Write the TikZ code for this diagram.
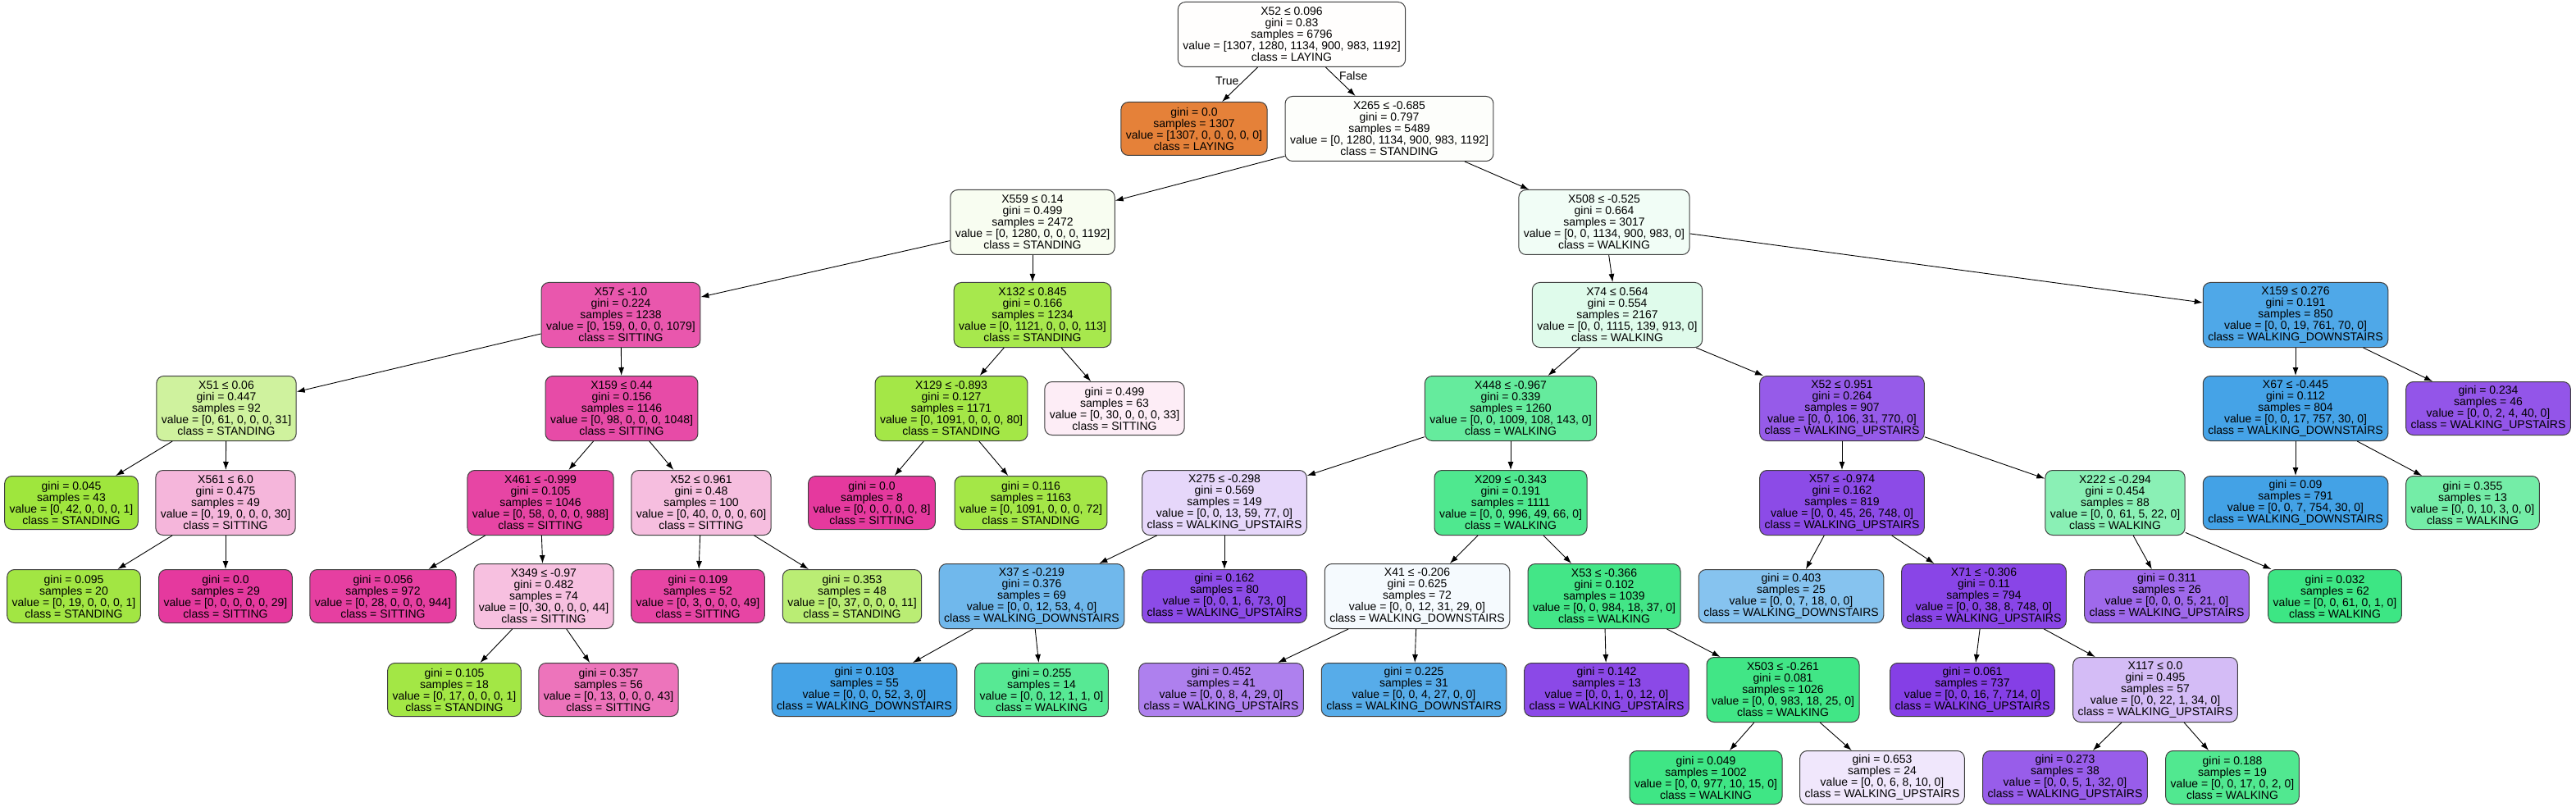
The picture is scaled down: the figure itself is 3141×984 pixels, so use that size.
\documentclass[tikz,border=0pt]{standalone}
\usepackage{fontspec}
\setmainfont{Liberation Sans}
\usetikzlibrary{arrows.meta}

\definecolor{laying}{HTML}{E58139}
\definecolor{standing}{HTML}{9DE539}
\definecolor{walking}{HTML}{39E581}
\definecolor{downst}{HTML}{399DE5}
\definecolor{upst}{HTML}{8139E5}
\definecolor{sitting}{HTML}{E5399E}

\tikzset{
  tnode/.style={draw=black!75, line width=1pt, rounded corners=9pt, align=center, inner xsep=6pt, inner ysep=2pt},
  splitnode/.style={tnode, minimum height=79pt},
  leafnode/.style={tnode, minimum height=65pt},
  arr/.style={->, line width=0.9pt}
}

\begin{document}
\begin{tikzpicture}[x=1pt, y=-1pt, >={Latex[length=10pt,width=7pt]}, font=\fontsize{14}{14}\selectfont]
\useasboundingbox (0,0) rectangle (3141,984);
% level 0-2
\node[splitnode, fill=laying!1] (0) at (1575,42) {X52 ≤ 0.096\\gini = 0.83\\samples = 6796\\value = [1307, 1280, 1134, 900, 983, 1192]\\class = LAYING};
\node[leafnode, fill=laying] (1) at (1456,157) {gini = 0.0\\samples = 1307\\value = [1307, 0, 0, 0, 0, 0]\\class = LAYING};
\node[splitnode, fill=standing!2] (2) at (1694,157) {X265 ≤ -0.685\\gini = 0.797\\samples = 5489\\value = [0, 1280, 1134, 900, 983, 1192]\\class = STANDING};
\node[splitnode, fill=standing!7] (3) at (1259,271) {X559 ≤ 0.14\\gini = 0.499\\samples = 2472\\value = [0, 1280, 0, 0, 0, 1192]\\class = STANDING};
\node[splitnode, fill=walking!7] (24) at (1956,271) {X508 ≤ -0.525\\gini = 0.664\\samples = 3017\\value = [0, 0, 1134, 900, 983, 0]\\class = WALKING};
% level 3
\node[splitnode, fill=sitting!85] (4) at (757,384) {X57 ≤ -1.0\\gini = 0.224\\samples = 1238\\value = [0, 159, 0, 0, 0, 1079]\\class = SITTING};
\node[splitnode, fill=standing!90] (19) at (1259,384) {X132 ≤ 0.845\\gini = 0.166\\samples = 1234\\value = [0, 1121, 0, 0, 0, 113]\\class = STANDING};
\node[splitnode, fill=walking!16] (25) at (1972,384) {X74 ≤ 0.564\\gini = 0.554\\samples = 2167\\value = [0, 0, 1115, 139, 913, 0]\\class = WALKING};
\node[splitnode, fill=downst!89] (52) at (2799,384) {X159 ≤ 0.276\\gini = 0.191\\samples = 850\\value = [0, 0, 19, 761, 70, 0]\\class = WALKING\_DOWNSTAIRS};
% level 4
\node[splitnode, fill=standing!49] (5) at (276,498) {X51 ≤ 0.06\\gini = 0.447\\samples = 92\\value = [0, 61, 0, 0, 0, 31]\\class = STANDING};
\node[splitnode, fill=sitting!91] (10) at (758,498) {X159 ≤ 0.44\\gini = 0.156\\samples = 1146\\value = [0, 98, 0, 0, 0, 1048]\\class = SITTING};
\node[splitnode, fill=standing!93] (20) at (1160,498) {X129 ≤ -0.893\\gini = 0.127\\samples = 1171\\value = [0, 1091, 0, 0, 0, 80]\\class = STANDING};
\node[leafnode, fill=sitting!9] (23) at (1359,498) {gini = 0.499\\samples = 63\\value = [0, 30, 0, 0, 0, 33]\\class = SITTING};
\node[splitnode, fill=walking!78] (26) at (1842,498) {X448 ≤ -0.967\\gini = 0.339\\samples = 1260\\value = [0, 0, 1009, 108, 143, 0]\\class = WALKING};
\node[splitnode, fill=upst!83] (41) at (2246,498) {X52 ≤ 0.951\\gini = 0.264\\samples = 907\\value = [0, 0, 106, 31, 770, 0]\\class = WALKING\_UPSTAIRS};
\node[splitnode, fill=downst!94] (53) at (2799,498) {X67 ≤ -0.445\\gini = 0.112\\samples = 804\\value = [0, 0, 17, 757, 30, 0]\\class = WALKING\_DOWNSTAIRS};
\node[leafnode, fill=upst!86] (56) at (3034,498) {gini = 0.234\\samples = 46\\value = [0, 0, 2, 4, 40, 0]\\class = WALKING\_UPSTAIRS};
% level 5
\node[leafnode, fill=standing!98] (6) at (87,613) {gini = 0.045\\samples = 43\\value = [0, 42, 0, 0, 0, 1]\\class = STANDING};
\node[splitnode, fill=sitting!37] (7) at (275,613) {X561 ≤ 6.0\\gini = 0.475\\samples = 49\\value = [0, 19, 0, 0, 0, 30]\\class = SITTING};
\node[splitnode, fill=sitting!94] (11) at (659,613) {X461 ≤ -0.999\\gini = 0.105\\samples = 1046\\value = [0, 58, 0, 0, 0, 988]\\class = SITTING};
\node[splitnode, fill=sitting!33] (16) at (855,613) {X52 ≤ 0.961\\gini = 0.48\\samples = 100\\value = [0, 40, 0, 0, 0, 60]\\class = SITTING};
\node[leafnode, fill=sitting] (21) at (1063,613) {gini = 0.0\\samples = 8\\value = [0, 0, 0, 0, 0, 8]\\class = SITTING};
\node[leafnode, fill=standing!93] (22) at (1257,613) {gini = 0.116\\samples = 1163\\value = [0, 1091, 0, 0, 0, 72]\\class = STANDING};
\node[splitnode, fill=upst!20] (27) at (1493,613) {X275 ≤ -0.298\\gini = 0.569\\samples = 149\\value = [0, 0, 13, 59, 77, 0]\\class = WALKING\_UPSTAIRS};
\node[splitnode, fill=walking!89] (32) at (1842,613) {X209 ≤ -0.343\\gini = 0.191\\samples = 1111\\value = [0, 0, 996, 49, 66, 0]\\class = WALKING};
\node[splitnode, fill=upst!91] (42) at (2246,613) {X57 ≤ -0.974\\gini = 0.162\\samples = 819\\value = [0, 0, 45, 26, 748, 0]\\class = WALKING\_UPSTAIRS};
\node[splitnode, fill=walking!59] (49) at (2579,613) {X222 ≤ -0.294\\gini = 0.454\\samples = 88\\value = [0, 0, 61, 5, 22, 0]\\class = WALKING};
\node[leafnode, fill=downst!95] (54) at (2799,613) {gini = 0.09\\samples = 791\\value = [0, 0, 7, 754, 30, 0]\\class = WALKING\_DOWNSTAIRS};
\node[leafnode, fill=walking!70] (55) at (3015,613) {gini = 0.355\\samples = 13\\value = [0, 0, 10, 3, 0, 0]\\class = WALKING};
% level 6
\node[leafnode, fill=standing!95] (8) at (90,727) {gini = 0.095\\samples = 20\\value = [0, 19, 0, 0, 0, 1]\\class = STANDING};
\node[leafnode, fill=sitting] (9) at (275,727) {gini = 0.0\\samples = 29\\value = [0, 0, 0, 0, 0, 29]\\class = SITTING};
\node[leafnode, fill=sitting!97] (12) at (467,727) {gini = 0.056\\samples = 972\\value = [0, 28, 0, 0, 0, 944]\\class = SITTING};
\node[splitnode, fill=sitting!32] (13) at (663,727) {X349 ≤ -0.97\\gini = 0.482\\samples = 74\\value = [0, 30, 0, 0, 0, 44]\\class = SITTING};
\node[leafnode, fill=sitting!94] (17) at (851,727) {gini = 0.109\\samples = 52\\value = [0, 3, 0, 0, 0, 49]\\class = SITTING};
\node[leafnode, fill=standing!70] (18) at (1039,727) {gini = 0.353\\samples = 48\\value = [0, 37, 0, 0, 0, 11]\\class = STANDING};
\node[splitnode, fill=downst!72] (28) at (1258,727) {X37 ≤ -0.219\\gini = 0.376\\samples = 69\\value = [0, 0, 12, 53, 4, 0]\\class = WALKING\_DOWNSTAIRS};
\node[leafnode, fill=upst!91] (31) at (1493,727) {gini = 0.162\\samples = 80\\value = [0, 0, 1, 6, 73, 0]\\class = WALKING\_UPSTAIRS};
\node[splitnode, fill=downst!5] (33) at (1728,727) {X41 ≤ -0.206\\gini = 0.625\\samples = 72\\value = [0, 0, 12, 31, 29, 0]\\class = WALKING\_DOWNSTAIRS};
\node[splitnode, fill=walking!95] (36) at (1956,727) {X53 ≤ -0.366\\gini = 0.102\\samples = 1039\\value = [0, 0, 984, 18, 37, 0]\\class = WALKING};
\node[leafnode, fill=downst!61] (43) at (2184,727) {gini = 0.403\\samples = 25\\value = [0, 0, 7, 18, 0, 0]\\class = WALKING\_DOWNSTAIRS};
\node[splitnode, fill=upst!94] (44) at (2419,727) {X71 ≤ -0.306\\gini = 0.11\\samples = 794\\value = [0, 0, 38, 8, 748, 0]\\class = WALKING\_UPSTAIRS};
\node[leafnode, fill=upst!76] (50) at (2642,727) {gini = 0.311\\samples = 26\\value = [0, 0, 0, 5, 21, 0]\\class = WALKING\_UPSTAIRS};
\node[leafnode, fill=walking!98] (51) at (2847,727) {gini = 0.032\\samples = 62\\value = [0, 0, 61, 0, 1, 0]\\class = WALKING};
% level 7
\node[leafnode, fill=standing!94] (14) at (554,841) {gini = 0.105\\samples = 18\\value = [0, 17, 0, 0, 0, 1]\\class = STANDING};
\node[leafnode, fill=sitting!70] (15) at (742,841) {gini = 0.357\\samples = 56\\value = [0, 13, 0, 0, 0, 43]\\class = SITTING};
\node[leafnode, fill=downst!94] (29) at (1054,841) {gini = 0.103\\samples = 55\\value = [0, 0, 0, 52, 3, 0]\\class = WALKING\_DOWNSTAIRS};
\node[leafnode, fill=walking!85] (30) at (1270,841) {gini = 0.255\\samples = 14\\value = [0, 0, 12, 1, 1, 0]\\class = WALKING};
\node[leafnode, fill=upst!64] (34) at (1489,841) {gini = 0.452\\samples = 41\\value = [0, 0, 8, 4, 29, 0]\\class = WALKING\_UPSTAIRS};
\node[leafnode, fill=downst!85] (35) at (1724,841) {gini = 0.225\\samples = 31\\value = [0, 0, 4, 27, 0, 0]\\class = WALKING\_DOWNSTAIRS};
\node[leafnode, fill=upst!92] (37) at (1959,841) {gini = 0.142\\samples = 13\\value = [0, 0, 1, 0, 12, 0]\\class = WALKING\_UPSTAIRS};
\node[splitnode, fill=walking!96] (38) at (2174,841) {X503 ≤ -0.261\\gini = 0.081\\samples = 1026\\value = [0, 0, 983, 18, 25, 0]\\class = WALKING};
\node[leafnode, fill=upst!97] (45) at (2405,841) {gini = 0.061\\samples = 737\\value = [0, 0, 16, 7, 714, 0]\\class = WALKING\_UPSTAIRS};
\node[splitnode, fill=upst!34] (46) at (2628,841) {X117 ≤ 0.0\\gini = 0.495\\samples = 57\\value = [0, 0, 22, 1, 34, 0]\\class = WALKING\_UPSTAIRS};
% level 8
\node[leafnode, fill=walking!97] (39) at (2080,948) {gini = 0.049\\samples = 1002\\value = [0, 0, 977, 10, 15, 0]\\class = WALKING};
\node[leafnode, fill=upst!12] (40) at (2295,948) {gini = 0.653\\samples = 24\\value = [0, 0, 6, 8, 10, 0]\\class = WALKING\_UPSTAIRS};
\node[leafnode, fill=upst!82] (47) at (2518,948) {gini = 0.273\\samples = 38\\value = [0, 0, 5, 1, 32, 0]\\class = WALKING\_UPSTAIRS};
\node[leafnode, fill=walking!88] (48) at (2722,948) {gini = 0.188\\samples = 19\\value = [0, 0, 17, 0, 2, 0]\\class = WALKING};
% edges
\draw [arr](0)--(1) node[pos=0.4, left=2pt]{True};
\draw [arr](0)--(2) node[pos=0.3, right=2pt]{False};
\draw [arr](2)--(3);
\draw [arr](2)--(24);
\draw [arr](3)--(4);
\draw [arr](3)--(19);
\draw [arr](4)--(5);
\draw [arr](4)--(10);
\draw [arr](5)--(6);
\draw [arr](5)--(7);
\draw [arr](7)--(8);
\draw [arr](7)--(9);
\draw [arr](10)--(11);
\draw [arr](10)--(16);
\draw [arr](11)--(12);
\draw [arr](11)--(13);
\draw [arr](13)--(14);
\draw [arr](13)--(15);
\draw [arr](16)--(17);
\draw [arr](16)--(18);
\draw [arr](19)--(20);
\draw [arr](19)--(23);
\draw [arr](20)--(21);
\draw [arr](20)--(22);
\draw [arr](24)--(25);
\draw [arr](24)--(52);
\draw [arr](25)--(26);
\draw [arr](25)--(41);
\draw [arr](26)--(27);
\draw [arr](26)--(32);
\draw [arr](27)--(28);
\draw [arr](27)--(31);
\draw [arr](28)--(29);
\draw [arr](28)--(30);
\draw [arr](32)--(33);
\draw [arr](32)--(36);
\draw [arr](33)--(34);
\draw [arr](33)--(35);
\draw [arr](36)--(37);
\draw [arr](36)--(38);
\draw [arr](38)--(39);
\draw [arr](38)--(40);
\draw [arr](41)--(42);
\draw [arr](41)--(49);
\draw [arr](42)--(43);
\draw [arr](42)--(44);
\draw [arr](44)--(45);
\draw [arr](44)--(46);
\draw [arr](46)--(47);
\draw [arr](46)--(48);
\draw [arr](49)--(50);
\draw [arr](49)--(51);
\draw [arr](52)--(53);
\draw [arr](52)--(56);
\draw [arr](53)--(54);
\draw [arr](53)--(55);
\end{tikzpicture}
\end{document}
